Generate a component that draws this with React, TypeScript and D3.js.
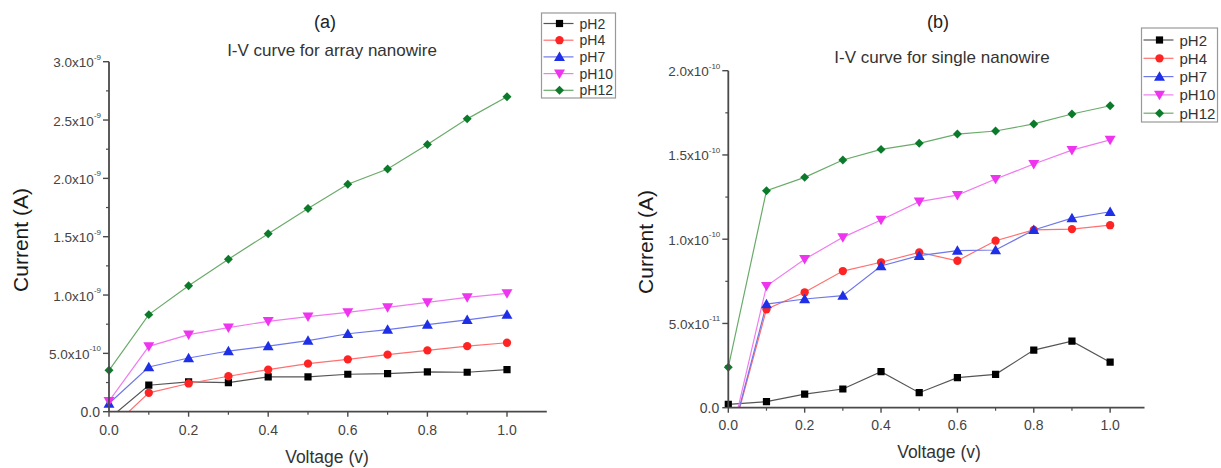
import React from "react";
import * as d3 from "d3";

// ---------- DATA ----------
const voltage = [0, 0.1, 0.2, 0.3, 0.4, 0.5, 0.6, 0.7, 0.8, 0.9, 1.0];
const seriesNames = ["pH2", "pH4", "pH7", "pH10", "pH12"];

// Panel (a): array nanowire, current in A
const arrayPH2 = [-0.06e-9, 0.227e-9, 0.256e-9, 0.25e-9, 0.298e-9, 0.298e-9, 0.321e-9, 0.327e-9, 0.341e-9, 0.338e-9, 0.361e-9];
const arrayPH4 = [-0.16e-9, 0.162e-9, 0.242e-9, 0.304e-9, 0.361e-9, 0.412e-9, 0.449e-9, 0.489e-9, 0.526e-9, 0.562e-9, 0.591e-9];
const arrayPH7 = [0.07e-9, 0.383e-9, 0.46e-9, 0.52e-9, 0.562e-9, 0.61e-9, 0.668e-9, 0.704e-9, 0.747e-9, 0.787e-9, 0.832e-9];
const arrayPH10 = [0.09e-9, 0.56e-9, 0.66e-9, 0.72e-9, 0.775e-9, 0.815e-9, 0.852e-9, 0.894e-9, 0.937e-9, 0.98e-9, 1.014e-9];
const arrayPH12 = [0.355e-9, 0.832e-9, 1.079e-9, 1.307e-9, 1.525e-9, 1.741e-9, 1.95e-9, 2.08e-9, 2.29e-9, 2.51e-9, 2.7e-9];

// Panel (b): single nanowire, current in A
const singlePH2 = [0.02e-10, 0.036e-10, 0.081e-10, 0.111e-10, 0.214e-10, 0.089e-10, 0.178e-10, 0.198e-10, 0.342e-10, 0.395e-10, 0.27e-10];
const singlePH4 = [-0.25e-10, 0.584e-10, 0.685e-10, 0.811e-10, 0.863e-10, 0.922e-10, 0.872e-10, 0.991e-10, 1.055e-10, 1.06e-10, 1.083e-10];
const singlePH7 = [-0.25e-10, 0.615e-10, 0.645e-10, 0.665e-10, 0.841e-10, 0.902e-10, 0.932e-10, 0.936e-10, 1.055e-10, 1.125e-10, 1.163e-10];
const singlePH10 = [-0.25e-10, 0.722e-10, 0.881e-10, 1.011e-10, 1.114e-10, 1.223e-10, 1.262e-10, 1.357e-10, 1.446e-10, 1.529e-10, 1.589e-10];
const singlePH12 = [0.24e-10, 1.288e-10, 1.367e-10, 1.47e-10, 1.533e-10, 1.569e-10, 1.624e-10, 1.642e-10, 1.684e-10, 1.743e-10, 1.792e-10];

// Ticks
const xMajorTicks = [0, 0.2, 0.4, 0.6, 0.8, 1.0];
const xMinorTicks = [0.1, 0.3, 0.5, 0.7, 0.9];
const xTickLabels = ["0.0", "0.2", "0.4", "0.6", "0.8", "1.0"];

const yTicksA = [0, 0.5e-9, 1.0e-9, 1.5e-9, 2.0e-9, 2.5e-9, 3.0e-9];
const yMinorA = [0.25e-9, 0.75e-9, 1.25e-9, 1.75e-9, 2.25e-9, 2.75e-9];
const yMantA = ["0.0", "5.0", "1.0", "1.5", "2.0", "2.5", "3.0"];
const yExpA = ["", "-10", "-9", "-9", "-9", "-9", "-9"];

const yTicksB = [0, 0.5e-10, 1.0e-10, 1.5e-10, 2.0e-10];
const yMinorB = [0.25e-10, 0.75e-10, 1.25e-10, 1.75e-10];
const yMantB = ["0.0", "5.0", "1.0", "1.5", "2.0"];
const yExpB = ["", "-11", "-10", "-10", "-10"];

// ---------- STYLES ----------
const markerColors = ["#000000", "#ff2424", "#1f2fe8", "#ee34ee", "#0b7a2a"];
const lineColors = ["#555555", "#ff7070", "#6f78ea", "#f07cf0", "#6aab6a"];
const FONT = "'Liberation Sans', Arial, Helvetica, sans-serif";

const symSquare = d3.symbol().type(d3.symbolSquare).size(52)();
const symCircle = d3.symbol().type(d3.symbolCircle).size(54)();
const symTriangle = d3.symbol().type(d3.symbolTriangle).size(52)();
const symDiamond = d3.symbol().type(d3.symbolSquare).size(40)();
const markerPaths = [symSquare, symCircle, symTriangle, symTriangle, symDiamond];
const markerRot = [0, 0, 0, 180, 45];

function Marker({ i, x, y }: { i: number; x: number; y: number }) {
  const dy = i === 2 ? 1 : i === 3 ? -1 : 0;
  return (
    <path
      d={markerPaths[i]}
      transform={`translate(${x},${y + dy}) rotate(${markerRot[i]})`}
      fill={markerColors[i]}
    />
  );
}

type PanelProps = {
  id: string;
  series: number[][];
  xRange: [number, number];
  xMax: number;
  yRange: [number, number];
  yMax: number;
  yTicks: number[];
  yMinor: number[];
  yMant: string[];
  yExp: string[];
  letter: string;
  letterPos: [number, number];
  title: string;
  titlePos: [number, number];
  yLabelPos: [number, number];
  xLabelPos: [number, number];
  xTickDy: number;
  legend: { x: number; y: number; w: number; h: number; step: number; font: number; first: number };
};

function Panel(p: PanelProps) {
  const x = d3.scaleLinear().domain([0, p.xMax]).range(p.xRange);
  const y = d3.scaleLinear().domain([0, p.yMax]).range(p.yRange);
  const x0 = x(0);
  const y0 = y(0);
  const line = d3
    .line<number>()
    .x((_, i) => x(voltage[i]))
    .y((d) => y(d));
  const axisColor = "#4a4a4a";
  const tickColor = "#444";
  const clipId = `clip-${p.id}`;
  const L = p.legend;
  return (
    <g>
      <defs>
        <clipPath id={clipId}>
          <rect x={x0 - 10} y={p.yRange[1] - 10} width={p.xRange[1] - x0 + 20} height={y0 - p.yRange[1] + 10} />
        </clipPath>
      </defs>
      {/* titles */}
      <text x={p.letterPos[0]} y={p.letterPos[1]} textAnchor="middle" dominantBaseline="central" fontSize={18} fill="#222" fontFamily={FONT}>
        {p.letter}
      </text>
      <text x={p.titlePos[0]} y={p.titlePos[1]} textAnchor="middle" dominantBaseline="central" fontSize={17} fill="#333" fontFamily={FONT}>
        {p.title}
      </text>
      {/* data */}
      <g clipPath={`url(#${clipId})`}>
        {p.series.map((s, i) => (
          <path key={`l${i}`} d={line(s) || ""} fill="none" stroke={lineColors[i]} strokeWidth={1.2} />
        ))}
        {p.series.map((s, i) =>
          s.map((v, j) => <Marker key={`m${i}-${j}`} i={i} x={x(voltage[j])} y={y(v)} />)
        )}
      </g>
      {/* axes */}
      <line x1={x0} x2={x0} y1={p.yRange[1]} y2={y0} stroke={axisColor} strokeWidth={1.8} />
      <line x1={x0} x2={p.xRange[1]} y1={y0} y2={y0} stroke={axisColor} strokeWidth={1.8} />
      {xMajorTicks.map((t, i) => (
        <g key={`xt${i}`}>
          <line x1={x(t)} x2={x(t)} y1={y0} y2={y0 + 5} stroke={axisColor} strokeWidth={1.4} />
          <text x={x(t)} y={y0 + p.xTickDy} textAnchor="middle" dominantBaseline="central" fontSize={14} fill={tickColor} fontFamily={FONT}>
            {xTickLabels[i]}
          </text>
        </g>
      ))}
      {xMinorTicks.map((t, i) => (
        <line key={`xm${i}`} x1={x(t)} x2={x(t)} y1={y0} y2={y0 + 3} stroke={axisColor} strokeWidth={1.2} />
      ))}
      {p.yTicks.map((t, i) => (
        <g key={`yt${i}`}>
          <line x1={x0 - 6} x2={x0} y1={y(t)} y2={y(t)} stroke={axisColor} strokeWidth={1.4} />
          {p.yExp[i] === "" ? (
            <text x={x0 - 9} y={y(t)} textAnchor="end" dominantBaseline="central" fontSize={14} fill={tickColor} fontFamily={FONT}>
              {p.yMant[i]}
            </text>
          ) : (
            <text x={x0 - 8} y={y(t) + 1} textAnchor="end" dominantBaseline="central" fontSize={13.5} fill={tickColor} fontFamily={FONT}>
              {p.yMant[i]}x10
              <tspan fontSize={8} dy={-6}>
                {p.yExp[i]}
              </tspan>
            </text>
          )}
        </g>
      ))}
      {p.yMinor.map((t, i) => (
        <line key={`ym${i}`} x1={x0 - 3} x2={x0} y1={y(t)} y2={y(t)} stroke={axisColor} strokeWidth={1.2} />
      ))}
      {/* axis labels */}
      <text
        transform={`translate(${p.yLabelPos[0]},${p.yLabelPos[1]}) rotate(-90)`}
        textAnchor="middle"
        dominantBaseline="central"
        fontSize={21}
        fill="#1a1a1a"
        fontFamily={FONT}
      >
        Current (A)
      </text>
      <text x={p.xLabelPos[0]} y={p.xLabelPos[1]} textAnchor="middle" dominantBaseline="central" fontSize={17.5} fill="#333" fontFamily={FONT}>
        Voltage (v)
      </text>
      {/* legend */}
      <rect x={L.x} y={L.y} width={L.w} height={L.h} fill="#fff" stroke="#999" strokeWidth={1.2} />
      {seriesNames.map((n, i) => {
        const ly = L.first + i * L.step;
        return (
          <g key={`lg${i}`}>
            <line x1={L.x + 2} x2={L.x + 32} y1={ly} y2={ly} stroke={lineColors[i]} strokeWidth={1.2} />
            <Marker i={i} x={L.x + 18} y={ly} />
            <text x={L.x + 38} y={ly} dominantBaseline="central" fontSize={L.font} fill="#333" fontFamily={FONT}>
              {n}
            </text>
          </g>
        );
      })}
    </g>
  );
}

export default function App() {
  return (
    <svg
      width={1221}
      height={468}
      style={{ position: "absolute", left: 0, top: 0, background: "#fff" }}
      xmlns="http://www.w3.org/2000/svg"
    >
      <rect x={0} y={0} width={1221} height={468} fill="#fff" />
      <Panel
        id="a"
        series={[arrayPH2, arrayPH4, arrayPH7, arrayPH10, arrayPH12]}
        xRange={[109, 546.8]}
        xMax={1.1}
        yRange={[411.7, 61.7]}
        yMax={3.0e-9}
        yTicks={yTicksA}
        yMinor={yMinorA}
        yMant={yMantA}
        yExp={yExpA}
        letter="(a)"
        letterPos={[325, 22]}
        title="I-V curve for array nanowire"
        titlePos={[332, 50]}
        yLabelPos={[20, 240]}
        xLabelPos={[327, 457]}
        xTickDy={18}
        legend={{ x: 541.5, y: 13, w: 74, h: 85, step: 16.7, font: 14, first: 23.5 }}
      />
      <Panel
        id="b"
        series={[singlePH2, singlePH4, singlePH7, singlePH10, singlePH12]}
        xRange={[728.3, 1144.5]}
        xMax={1.09}
        yRange={[407.7, 70.7]}
        yMax={2.0e-10}
        yTicks={yTicksB}
        yMinor={yMinorB}
        yMant={yMantB}
        yExp={yExpB}
        letter="(b)"
        letterPos={[938, 22]}
        title="I-V curve for single nanowire"
        titlePos={[942, 57]}
        yLabelPos={[645, 242]}
        xLabelPos={[939, 452]}
        xTickDy={17}
        legend={{ x: 1141.5, y: 28, w: 76, h: 94, step: 18.3, font: 15, first: 40 }}
      />
    </svg>
  );
}
